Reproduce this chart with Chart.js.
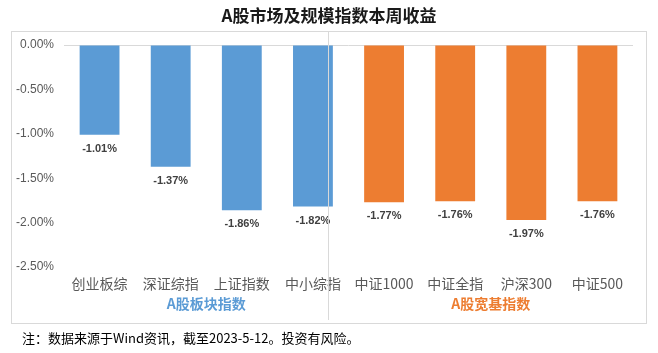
<!DOCTYPE html>
<html>
<head>
<meta charset="utf-8">
<script src="https://cdn.jsdelivr.net/npm/chart.js@4"></script>
<style>
  html, body { margin: 0; padding: 0; background: #fff; }
  #chart { display: block; }
</style>
</head>
<body>
<canvas id="chart" width="658" height="353"></canvas>
<script>
const categories = ["创业板综", "深证综指", "上证指数", "中小综指", "中证1000", "中证全指", "沪深300", "中证500"];
const returns = [-1.01, -1.37, -1.86, -1.82, -1.77, -1.76, -1.97, -1.76];
const barColors = ["#5B9BD5", "#5B9BD5", "#5B9BD5", "#5B9BD5", "#ED7D31", "#ED7D31", "#ED7D31", "#ED7D31"];
const groups = [
  { label: "A股板块指数", from: 0, to: 3, color: "#5B9BD5" },
  { label: "A股宽基指数", from: 4, to: 7, color: "#ED7D31" },
];
const yTicks = [0, -0.5, -1, -1.5, -2, -2.5];
const titleText = "A股市场及规模指数本周收益";
const noteText = "注：数据来源于Wind资讯，截至2023-5-12。投资有风险。";

const cjk = "'Noto Sans CJK SC', 'Noto Sans', sans-serif";

const decorPlugin = {
  id: "decor",
  beforeDraw(chart) {
    const { ctx } = chart;
    ctx.save();
    ctx.fillStyle = "#fff";
    ctx.fillRect(0, 0, chart.width, chart.height);
    ctx.strokeStyle = "#d9d9d9";
    ctx.lineWidth = 1;
    ctx.strokeRect(11.5, 31.5, 635, 292);
    ctx.restore();
  },
  afterDatasetsDraw(chart) {
    const { ctx, scales } = chart;
    const meta = chart.getDatasetMeta(0);
    ctx.save();
    // value labels
    ctx.font = "bold 11px 'Liberation Sans', Arial, sans-serif";
    ctx.fillStyle = "#404040";
    ctx.textAlign = "center";
    ctx.textBaseline = "middle";
    meta.data.forEach((bar, i) => {
      ctx.fillText(returns[i].toFixed(2) + "%", bar.x, bar.y + 14);
    });
    // divider between groups (sits near the right edge of the 4th bar)
    const xs = scales.x;
    const divX = Math.round(xs.getPixelForValue(3) + 15) + 0.5;
    ctx.strokeStyle = "#d9d9d9";
    ctx.beginPath();
    ctx.moveTo(divX, 32);
    ctx.lineTo(divX, 320);
    ctx.stroke();
    // group labels
    ctx.font = "bold 14px " + cjk;
    groups.forEach((g) => {
      const cx = (xs.getPixelForValue(g.from) + xs.getPixelForValue(g.to)) / 2;
      ctx.fillStyle = g.color;
      ctx.fillText(g.label, cx, 304);
    });
    // title
    ctx.font = "bold 17px " + cjk;
    ctx.fillStyle = "#1a1a1a";
    ctx.fillText(titleText, 329, 16);
    // note
    ctx.font = "13px " + cjk;
    ctx.fillStyle = "#000";
    ctx.textAlign = "left";
    ctx.fillText(noteText, 22, 338);
    ctx.restore();
  },
};

new Chart(document.getElementById("chart"), {
  type: "bar",
  data: {
    labels: categories,
    datasets: [{
      data: returns,
      backgroundColor: barColors,
      borderWidth: 0,
      categoryPercentage: 1,
      barPercentage: 0.56,
    }],
  },
  options: {
    responsive: false,
    animation: false,
    layout: { padding: { left: 12, right: 25, top: 45, bottom: 56 } },
    plugins: {
      legend: { display: false },
      tooltip: { enabled: false },
      title: { display: false },
    },
    scales: {
      y: {
        min: -2.5,
        max: 0,
        afterFit: (scale) => { scale.width = 52; },
        afterBuildTicks: (scale) => { scale.ticks = yTicks.map((v) => ({ value: v })); },
        border: { display: false },
        grid: {
          drawTicks: false,
          color: (c) => (c.tick && c.tick.value === 0 ? "#d9d9d9" : "rgba(0,0,0,0)"),
          lineWidth: 1,
        },
        ticks: {
          padding: 10,
          color: "#595959",
          font: { size: 12, family: "'Liberation Sans', Arial, sans-serif" },
          callback: (v) => v.toFixed(2) + "%",
        },
      },
      x: {
        afterFit: (scale) => { scale.height = 30; },
        border: { display: false },
        grid: { display: false, drawTicks: false },
        ticks: {
          padding: 8,
          color: "#595959",
          font: { size: 14, family: cjk },
        },
      },
    },
  },
  plugins: [decorPlugin],
});
</script>
</body>
</html>
